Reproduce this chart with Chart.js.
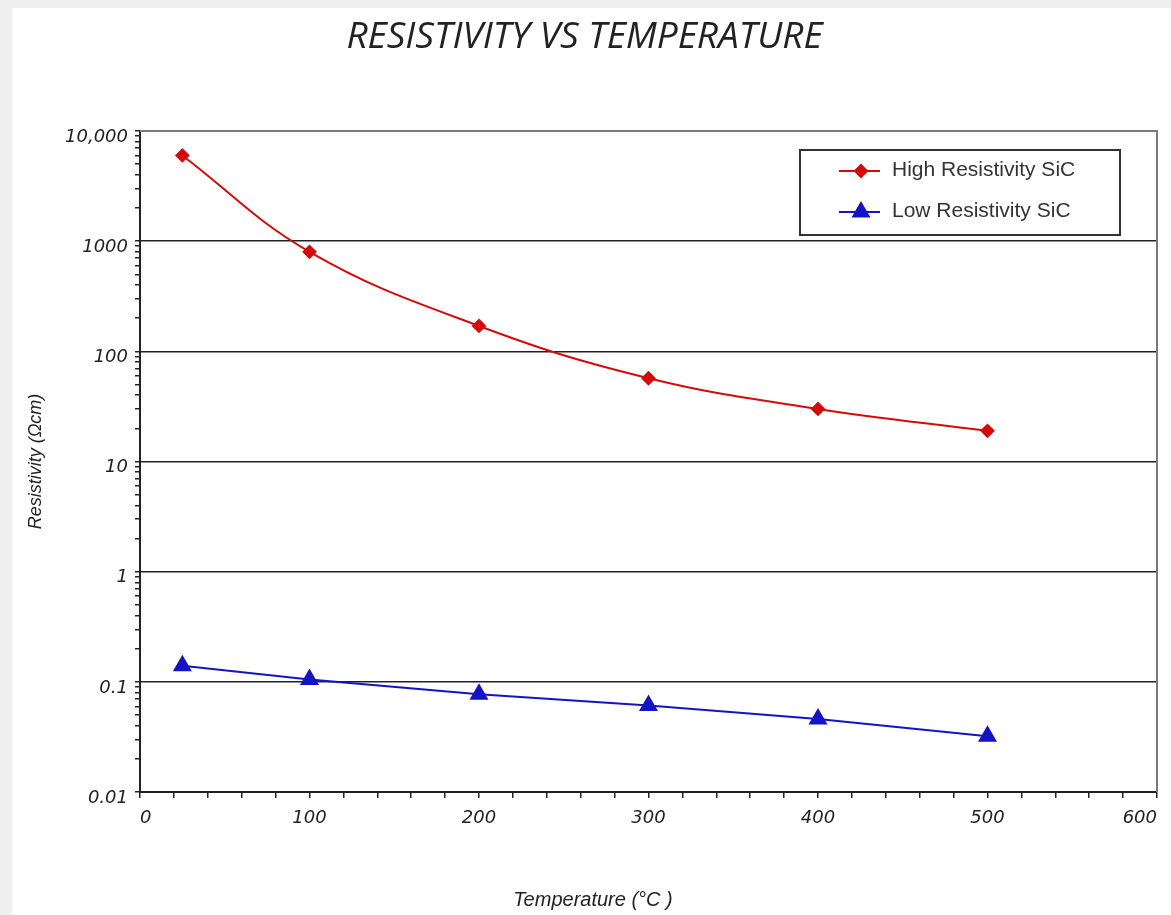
<!DOCTYPE html>
<html>
<head>
<meta charset="utf-8">
<script src="https://cdn.jsdelivr.net/npm/chart.js@4.4.0/dist/chart.umd.min.js"></script>
<style>
  html, body { margin: 0; padding: 0; background: #efefef; width: 1171px; height: 915px; overflow: hidden; }
  #panel { position: absolute; left: 12px; top: 8px; width: 1159px; height: 907px; background: #fff; }
</style>
</head>
<body>
<div id="panel"><canvas id="chart"></canvas></div>
<script>
// ---------------------------------------------------------------
// DATI
// ---------------------------------------------------------------
const TEMPS         = [25, 100, 200, 300, 400, 500];
const HIGH_RES      = [6000, 800, 170, 57, 30, 19];
const LOW_RES       = [0.14, 0.105, 0.077, 0.061, 0.046, 0.032];
const SERIES_NAMES  = ['High Resistivity SiC', 'Low Resistivity SiC'];
const Y_TICK_VALUES = [0.01, 0.1, 1, 10, 100, 1000, 10000];
const Y_TICK_LABELS = ['0.01', '0.1', '1', '10', '100', '1000', '10,000'];
const X_TICK_LABELS = [0, 100, 200, 300, 400, 500, 600];

const RED  = '#d40b0b';
const BLUE = '#1414c4';
const INK  = '#222';

const isDecade = v => Y_TICK_VALUES.findIndex(d => Math.abs(d - v) < d * 1e-6);

// riquadro del grafico (bordo grigio sopra/destra) + legenda + titolo asse x
const framePlugin = {
  id: 'frame',
  beforeDatasetsDraw(chart) {
    const { ctx, chartArea: a } = chart;
    ctx.save();
    ctx.strokeStyle = '#7a7a7a';
    ctx.lineWidth = 2;
    ctx.beginPath();
    ctx.moveTo(a.left, a.top);
    ctx.lineTo(a.right, a.top);
    ctx.lineTo(a.right, a.bottom);
    ctx.stroke();
    ctx.restore();
  },
  afterDraw(chart) {
    const { ctx } = chart;
    ctx.save();
    // legenda
    ctx.strokeStyle = '#333';
    ctx.lineWidth = 2;
    ctx.strokeRect(788, 142, 320, 85);
    const rows = [163, 204];
    chart.data.datasets.forEach((ds, i) => {
      const y = rows[i];
      ctx.strokeStyle = ds.borderColor;
      ctx.lineWidth = 2;
      ctx.beginPath();
      ctx.moveTo(827, y);
      ctx.lineTo(868, y);
      ctx.stroke();
      ctx.fillStyle = ds.pointBackgroundColor;
      ctx.strokeStyle = ds.pointBorderColor;
      Chart.helpers.drawPoint(ctx, {
        pointStyle: ds.pointStyle, rotation: 0,
        radius: ds.pointRadius, borderWidth: ds.pointBorderWidth
      }, 849, y);
      ctx.fillStyle = '#333';
      ctx.font = '21px "Liberation Sans", Arial, sans-serif';
      ctx.textBaseline = 'middle';
      ctx.fillText(ds.label, 880, y - 1);
    });
    // titolo asse x
    ctx.fillStyle = INK;
    ctx.font = 'italic 20px "Liberation Sans", Arial, sans-serif';
    ctx.textAlign = 'center';
    ctx.textBaseline = 'middle';
    ctx.fillText('Temperature (°C )', 581, 892);
    ctx.restore();
  }
};

new Chart(document.getElementById('chart'), {
  type: 'line',
  data: {
    datasets: [
      {
        label: SERIES_NAMES[0],
        data: TEMPS.map((t, i) => ({ x: t, y: HIGH_RES[i] })),
        borderColor: RED, backgroundColor: RED,
        pointBackgroundColor: RED, pointBorderColor: RED,
        pointStyle: 'rectRot', pointRadius: 6, pointBorderWidth: 2,
        borderWidth: 2, tension: 0.4
      },
      {
        label: SERIES_NAMES[1],
        data: TEMPS.map((t, i) => ({ x: t, y: LOW_RES[i] })),
        borderColor: BLUE, backgroundColor: BLUE,
        pointBackgroundColor: BLUE, pointBorderColor: BLUE,
        pointStyle: 'triangle', pointRadius: 9, pointBorderWidth: 2,
        borderWidth: 2, tension: 0
      }
    ]
  },
  options: {
    responsive: true,
    maintainAspectRatio: false,
    animation: false,
    layout: { padding: { left: 0, right: 14, top: 0, bottom: 0 } },
    plugins: {
      legend: { display: false },
      tooltip: { enabled: false },
      title: {
        display: true,
        text: 'RESISTIVITY VS TEMPERATURE',
        color: INK,
        font: { family: '"Open Sans", sans-serif', size: 37, style: 'italic', weight: 'normal', lineHeight: 1.2 },
        padding: { top: 7, bottom: 71.6 }
      }
    },
    scales: {
      x: {
        type: 'linear',
        min: X_TICK_LABELS[0],
        max: X_TICK_LABELS[X_TICK_LABELS.length - 1],
        afterFit: s => { s.height = 123; },
        border: { color: INK, width: 2 },
        grid: { drawOnChartArea: false, drawTicks: true, tickLength: 6, tickColor: INK, lineWidth: 1.5 },
        ticks: {
          stepSize: 20,
          autoSkip: false,
          maxRotation: 0,
          align: 'inner',
          padding: 10,
          color: INK,
          font: { family: '"DejaVu Sans", sans-serif', size: 18, style: 'italic' },
          callback: v => X_TICK_LABELS.includes(v) ? String(v) : ''
        }
      },
      y: {
        type: 'logarithmic',
        min: Y_TICK_VALUES[0],
        max: Y_TICK_VALUES[Y_TICK_VALUES.length - 1],
        afterFit: s => { s.width = 128; },
        afterBuildTicks: s => {
          const ticks = [];
          for (let i = 0; i < Y_TICK_VALUES.length - 1; i++) {
            for (let k = 1; k <= 9; k++) ticks.push({ value: Y_TICK_VALUES[i] * k });
          }
          ticks.push({ value: Y_TICK_VALUES[Y_TICK_VALUES.length - 1] });
          s.ticks = ticks;
        },
        border: { color: INK, width: 2 },
        grid: {
          drawTicks: true,
          tickLength: 5,
          tickColor: INK,
          lineWidth: 1.5,
          color: c => {
            if (!c.tick) return 'transparent';
            const idx = isDecade(c.tick.value);
            return idx > 0 && idx < Y_TICK_VALUES.length - 1 ? INK : 'transparent';
          }
        },
        ticks: {
          autoSkip: false,
          padding: 7,
          labelOffset: 6,
          color: INK,
          font: { family: '"DejaVu Sans", sans-serif', size: 18, style: 'italic' },
          callback: v => {
            const idx = isDecade(v);
            return idx >= 0 ? Y_TICK_LABELS[idx] : '';
          }
        },
        title: {
          display: true,
          text: 'Resistivity (Ωcm)',
          color: INK,
          font: { family: '"Liberation Sans", Arial, sans-serif', size: 18, style: 'italic' },
          padding: { top: 13, bottom: 0 }
        }
      }
    }
  },
  plugins: [framePlugin]
});
</script>
</body>
</html>
